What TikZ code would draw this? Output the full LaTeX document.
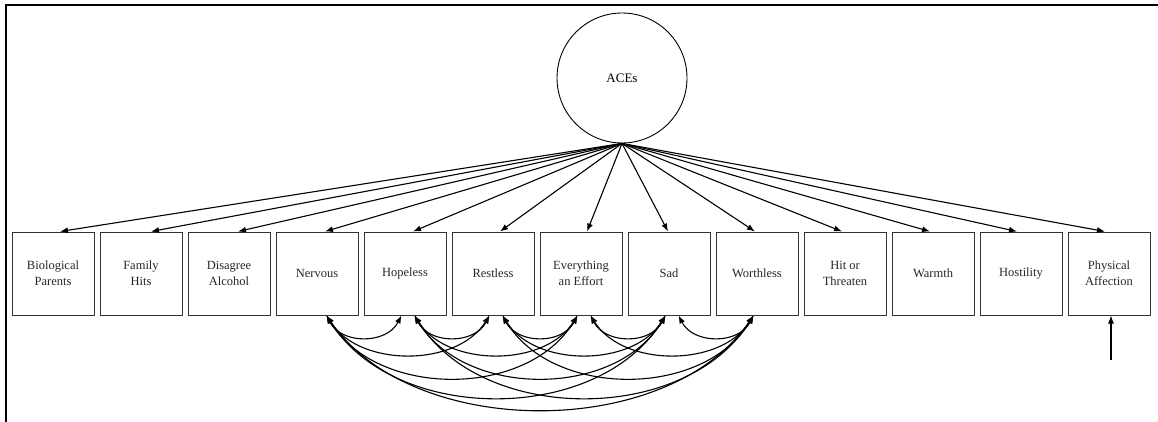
\documentclass[tikz,border=0pt]{standalone}
\usepackage{fontspec}
\setmainfont{Liberation Serif}
\usetikzlibrary{arrows.meta,calc}
\begin{document}
\begin{tikzpicture}[x=1pt,y=-1pt,
  var/.style={draw=black!80, line width=1pt, minimum width=82pt, minimum height=83pt, inner sep=0pt, align=center, font=\fontsize{12.5}{16}\selectfont, text=black!85},
  load/.style={-{Latex[length=8pt,width=6pt]}, line width=1.1pt},
  cov/.style={{Latex[length=8pt,width=6pt]}-{Latex[length=8pt,width=6pt]}, line width=1.1pt}]
\useasboundingbox (0,0) rectangle (1158,422);
\draw[line width=2.5pt] (6,423) -- (6,5) -- (1159,5);
\node[circle, draw, line width=0.9pt, minimum size=130pt, inner sep=0pt, font=\fontsize{13}{16}\selectfont] (ace) at (622,78) {ACEs};
\node[var] (b0) at (53,273.5) {Biological\\Parents};
\node[var] (b1) at (141,273.5) {Family\\Hits};
\node[var] (b2) at (229,273.5) {Disagree\\Alcohol};
\node[var] (b3) at (317,273.5) {Nervous};
\node[var] (b4) at (405,273.5) {Hopeless};
\node[var] (b5) at (493,273.5) {Restless};
\node[var] (b6) at (581,273.5) {Everything\\an Effort};
\node[var] (b7) at (669,273.5) {Sad};
\node[var] (b8) at (757,273.5) {Worthless};
\node[var] (b9) at (845,273.5) {Hit or\\Threaten};
\node[var] (b10) at (933,273.5) {Warmth};
\node[var] (b11) at (1021,273.5) {Hostility};
\node[var] (b12) at (1109,273.5) {Physical\\Affection};
\foreach \i/\dx in {0/7,1/10,2/9,3/8,4/8,5/7,6/6,7/-1,8/-2,9/-3,10/-3,11/-4,12/-4}
  \draw[load] (ace.south) -- ([xshift=\dx pt]b\i.north);
\foreach \i in {3,...,7}{
  \pgfmathtruncatemacro\ii{\i+1}
  \foreach \j in {\ii,...,8}{
    \pgfmathtruncatemacro\d{\j-\i}
    \pgfmathsetmacro\c{{29,52,83,109,125}[\d-1]}
    \pgfmathsetmacro\a{0.2*(75+88*(\d-1))}
    \draw[cov] ([xshift=9.5pt]b\i.south) .. controls +(\a,\c) and +(-\a,\c) .. ([xshift=-3.5pt]b\j.south);
  }
}
\coordinate (e) at (1111,360);
\draw[load] (e) -- ([xshift=2pt]b12.south);
\end{tikzpicture}
\end{document}
